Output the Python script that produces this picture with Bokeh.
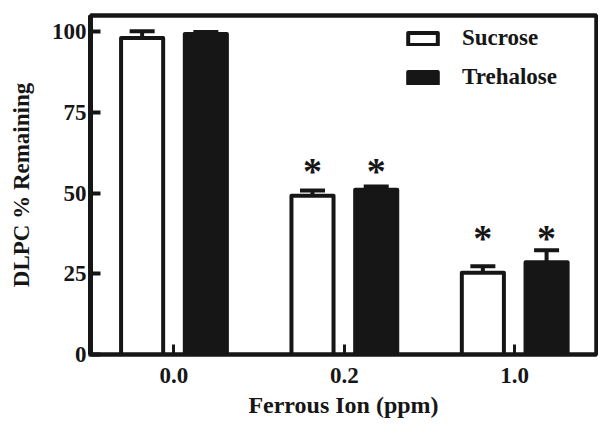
from bokeh.plotting import figure
from bokeh.models import (ColumnDataSource, Range1d, FixedTicker, Whisker, TeeHead,
                          Legend, LegendItem, LinearAxis)
from bokeh.core.properties import value
from bokeh.embed import file_html
from bokeh.resources import INLINE

# ---- data ----
categories = ["0.0", "0.2", "1.0"]
sucrose = [98.0, 49.2, 25.3]
sucrose_err = [2.1, 1.6, 2.0]
trehalose = [99.3, 51.0, 28.6]
trehalose_err = [0.6, 1.0, 3.7]
sig_sucrose = [False, True, True]
sig_trehalose = [False, True, True]
star_level = [0.0, 58.0, 37.4]
y_ticks = [0, 25, 50, 75, 100]

FONT = "Liberation Serif"
INK = "#161616"
idx = list(range(len(categories)))
offset = 0.187
bar_w = 0.247

p = figure(width=598, height=420,
           x_range=Range1d(-0.49, 2.48), y_range=Range1d(0, 105),
           output_backend="svg", toolbar_location=None,
           min_border_left=90, min_border_right=2,
           min_border_top=15, min_border_bottom=64)

p.background_fill_color = "white"
p.border_fill_color = "white"
p.outline_line_color = INK
p.outline_line_width = 4
p.xgrid.visible = False
p.ygrid.visible = False

src_s = ColumnDataSource(dict(x=[i - offset for i in idx], top=sucrose,
                              upper=[v + e for v, e in zip(sucrose, sucrose_err)],
                              lower=[v - e for v, e in zip(sucrose, sucrose_err)]))
src_t = ColumnDataSource(dict(x=[i + offset for i in idx], top=trehalose,
                              upper=[v + e for v, e in zip(trehalose, trehalose_err)],
                              lower=trehalose))

r_s = p.vbar(x="x", top="top", width=bar_w, bottom=0, source=src_s,
             fill_color="white", line_color=INK, line_width=4, line_join="round")
r_t = p.vbar(x="x", top="top", width=bar_w, bottom=0, source=src_t,
             fill_color=INK, line_color=INK, line_width=4, line_join="round")

w_s = Whisker(base="x", upper="upper", lower="lower", source=src_s,
              line_color=INK, line_width=4,
              upper_head=TeeHead(size=25, line_color=INK, line_width=4),
              lower_head=TeeHead(size=25, line_color=INK, line_width=4))
w_t = Whisker(base="x", upper="upper", lower="lower", source=src_t,
              line_color=INK, line_width=4,
              upper_head=TeeHead(size=25, line_color=INK, line_width=4),
              lower_head=None)
p.add_layout(w_s)
p.add_layout(w_t)

# significance stars
star_x = [i - offset for i in idx if sig_sucrose[i]] + [i + offset for i in idx if sig_trehalose[i]]
star_y = [star_level[i] for i in idx if sig_sucrose[i]] + [star_level[i] for i in idx if sig_trehalose[i]]
p.text(x=star_x, y=star_y, text=["*"] * len(star_x),
       text_font=value(FONT), text_font_size="38px", text_font_style="bold",
       text_color=INK, text_align="center", text_baseline="middle", y_offset=4)

# axes
p.xaxis.ticker = FixedTicker(ticks=idx)
p.xaxis.major_label_overrides = {i: c for i, c in zip(idx, categories)}
p.xaxis.minor_tick_line_color = None
p.xaxis.major_tick_in = 10
p.xaxis.major_tick_out = 0
p.xaxis.major_tick_line_width = 3
p.xaxis.major_tick_line_color = INK
p.xaxis.axis_line_width = 4
p.xaxis.axis_line_color = INK
p.xaxis.major_label_standoff = 13
p.xaxis.axis_label = "Ferrous Ion (ppm)"
p.xaxis.axis_label_standoff = 6

p.yaxis.ticker = FixedTicker(ticks=y_ticks)
p.yaxis.minor_tick_line_color = None
p.yaxis.major_tick_in = 10
p.yaxis.major_tick_out = 2
p.yaxis.major_tick_line_width = 4
p.yaxis.major_tick_line_color = INK
p.yaxis.axis_line_width = 5
p.yaxis.axis_line_color = INK
p.yaxis.major_label_standoff = 2
p.yaxis.axis_label = "DLPC % Remaining"
p.yaxis.axis_label_standoff = 15

for ax in (p.xaxis[0], p.yaxis[0]):
    ax.major_label_text_font = FONT
    ax.major_label_text_font_size = "23px"
    ax.major_label_text_font_style = "bold"
    ax.major_label_text_color = INK
    ax.axis_label_text_font = FONT
    ax.axis_label_text_font_style = "bold"
    ax.axis_label_text_color = INK
p.xaxis.axis_label_text_font_size = "24px"
p.yaxis.axis_label_text_font_size = "23px"

# frame lines on top and right
for side in ("right", "above"):
    frame_ax = LinearAxis(ticker=FixedTicker(ticks=[]), axis_line_color=INK,
                          axis_line_width=4, major_tick_line_color=None,
                          minor_tick_line_color=None, major_label_standoff=0,
                          major_tick_out=0, major_tick_in=0,
                          major_label_text_font_size="0px")
    p.add_layout(frame_ax, side)

legend = Legend(items=[LegendItem(label="Sucrose", renderers=[r_s]),
                       LegendItem(label="Trehalose", renderers=[r_t])],
                location=(314, 264), orientation="vertical",
                glyph_width=37, glyph_height=15, label_height=15,
                label_standoff=21, spacing=13, padding=0, margin=0,
                border_line_alpha=0, background_fill_alpha=0,
                label_text_font=FONT, label_text_font_size="23px",
                label_text_font_style="bold", label_text_color=INK)
p.add_layout(legend)

open("out.html", "w").write(file_html(p, INLINE))
